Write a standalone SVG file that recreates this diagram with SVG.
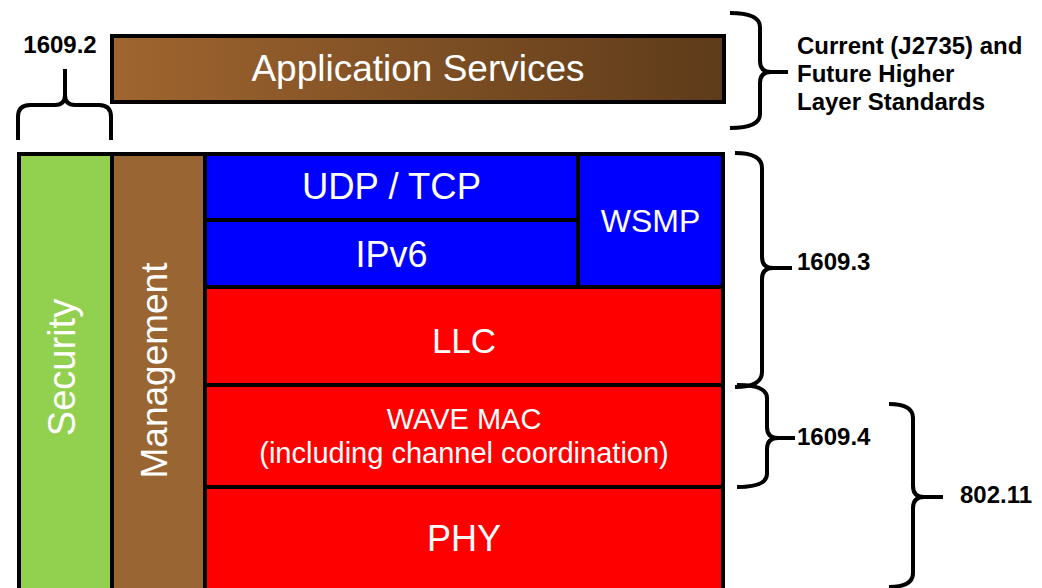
<svg xmlns="http://www.w3.org/2000/svg" width="1042" height="588" viewBox="0 0 1042 588">
  <defs>
    <linearGradient id="appGrad" x1="0" y1="0" x2="1" y2="0">
      <stop offset="0" stop-color="#A0652F"/>
      <stop offset="1" stop-color="#5E3B1A"/>
    </linearGradient>
  </defs>
  <style>
    .box { stroke: #000; stroke-width: 4; }
    .blue { fill: #0000FF; }
    .red { fill: #FF0000; }
    .lbl { font-family: "Liberation Sans", Arial, sans-serif; fill: #FFFFFF; text-anchor: middle; }
    .note { font-family: "Liberation Sans", Arial, sans-serif; font-weight: bold; fill: #000; font-size: 24px; }
    .brace { fill: none; stroke: #000; stroke-width: 4; stroke-linecap: butt; stroke-linejoin: round; }
  </style>
  <rect width="1042" height="588" fill="#FFFFFF"/>

  <g id="app-services">
    <rect class="box" x="112" y="36" width="612" height="66" fill="url(#appGrad)"/>
    <text class="lbl" x="418" y="81" font-size="37">Application Services</text>
  </g>

  <g id="security">
    <rect class="box" x="19" y="154" width="93" height="450" fill="#92D050"/>
    <text class="lbl" font-size="38" transform="translate(75,367.5) rotate(-90)">Security</text>
  </g>

  <g id="management">
    <rect class="box" x="112" y="154" width="93" height="450" fill="#996633"/>
    <text class="lbl" font-size="37" transform="translate(167,370.5) rotate(-90)">Management</text>
  </g>

  <g id="udp-tcp">
    <rect class="box blue" x="205" y="154" width="373" height="66"/>
    <text class="lbl" x="391.5" y="199" font-size="36.5">UDP / TCP</text>
  </g>

  <g id="ipv6">
    <rect class="box blue" x="205" y="220" width="373" height="67"/>
    <text class="lbl" x="391.5" y="267" font-size="36">IPv6</text>
  </g>

  <g id="wsmp">
    <rect class="box blue" x="578" y="154" width="145" height="133"/>
    <text class="lbl" x="650.5" y="232" font-size="32">WSMP</text>
  </g>

  <g id="llc">
    <rect class="box red" x="205" y="287" width="518" height="98"/>
    <text class="lbl" x="464" y="353" font-size="35">LLC</text>
  </g>

  <g id="wave-mac">
    <rect class="box red" x="205" y="385" width="518" height="102"/>
    <text class="lbl" x="464" y="429" font-size="29">WAVE MAC</text>
    <text class="lbl" x="464" y="463" font-size="29">(including channel coordination)</text>
  </g>

  <g id="phy">
    <rect class="box red" x="205" y="487" width="518" height="120"/>
    <text class="lbl" x="464" y="551" font-size="36">PHY</text>
  </g>

  <g id="connectors">
    <path class="brace" d="M18,140 V117 Q18,105 30,105 H55 Q65,105 65,95 V69 M65,95 Q65,105 75,105 H99 Q111,105 111,117 V140"/>
    <path class="brace" d="M730,13 Q760,13 760,27 V61 Q760,72 771,72 H788 M771,72 Q760,72 760,83 V114 Q760,128 730,128"/>
    <path class="brace" d="M735,153 Q762,153 762,168 V257 Q762,268 773,268 H792 M773,268 Q762,268 762,279 V372 Q762,387 735,387"/>
    <path class="brace" d="M737,385 Q767,385 767,398 V427 Q767,438 778,438 H795 M778,438 Q767,438 767,449 V474 Q767,487 737,487"/>
    <path class="brace" d="M889,404 Q913,404 913,418 V486 Q913,497 924,497 H943 M924,497 Q913,497 913,508 V573 Q913,587 889,587"/>
  </g>

  <g id="labels">
    <text class="note" x="60" y="53" text-anchor="middle">1609.2</text>
    <text class="note" x="797" y="54">Current (J2735) and</text>
    <text class="note" x="797" y="82">Future Higher</text>
    <text class="note" x="797" y="110">Layer Standards</text>
    <text class="note" x="797" y="270">1609.3</text>
    <text class="note" x="797" y="445">1609.4</text>
    <text class="note" x="960" y="503">802.11</text>
  </g>
</svg>
